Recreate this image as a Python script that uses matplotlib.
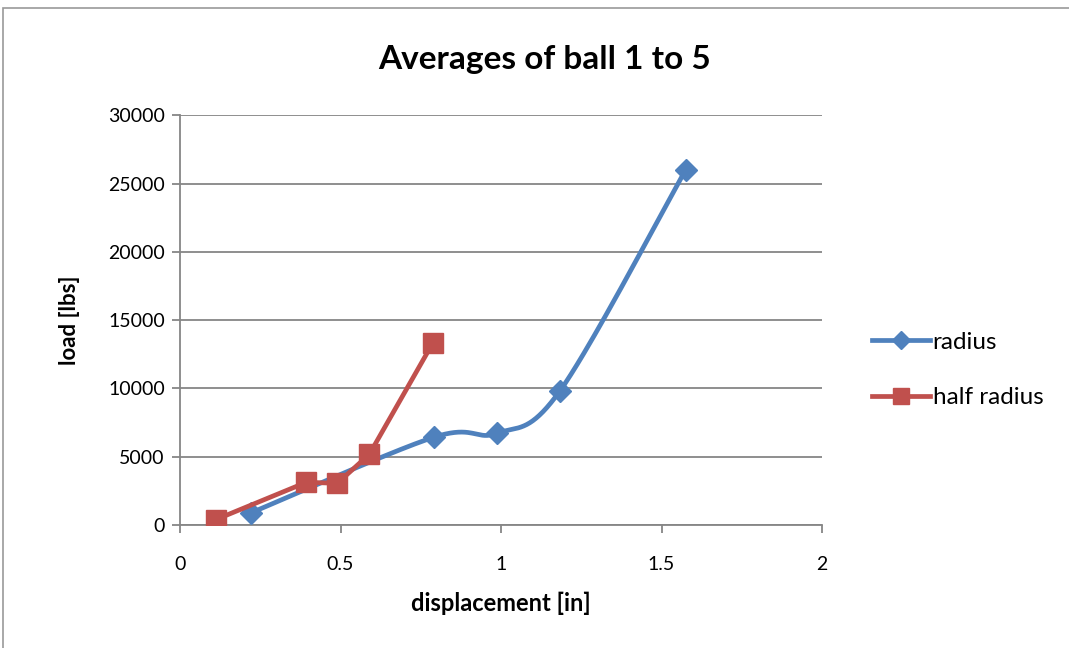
import numpy as np
import matplotlib
matplotlib.use("Agg")
import matplotlib.pyplot as plt
from matplotlib.patches import Rectangle
from matplotlib.lines import Line2D

# Data
radius_x = [0.222, 0.79, 0.987, 1.184, 1.575]
radius_y = [900, 6420, 6710, 9830, 26000]
half_x = [0.112, 0.394, 0.490, 0.590, 0.787]
half_y = [400, 3130, 3050, 5180, 13300]
xticks = [0, 0.5, 1, 1.5, 2]
xticklabels = ['0', '0.5', '1', '1.5', '2']
yticks = [0, 5000, 10000, 15000, 20000, 25000, 30000]

plt.rcParams['font.family'] = ['Lato', 'DejaVu Sans']

W, H = 1069, 648
fig = plt.figure(figsize=(W / 100, H / 100), dpi=100)
ax = fig.add_axes([180 / W, (H - 525) / H, (822 - 180) / W, (525 - 115.2) / H])

blue = '#4F81BD'
red = '#C0504D'
grid = '#868686'


def smooth(xs, ys, sx, sy, n=40):
    # Excel-style smoothed line: Catmull-Rom Bezier in display-proportional space
    P = np.column_stack([np.array(xs) * sx, np.array(ys) * sy])
    out = [P[0]]
    for i in range(len(P) - 1):
        p0 = P[i - 1] if i > 0 else P[i]
        p1, p2 = P[i], P[i + 1]
        p3 = P[i + 2] if i + 2 < len(P) else P[i + 1]
        c1 = p1 + (p2 - p0) / 6
        c2 = p2 - (p3 - p1) / 6
        t = np.linspace(0, 1, n)[1:, None]
        seg = ((1 - t) ** 3) * p1 + 3 * ((1 - t) ** 2) * t * c1 + 3 * (1 - t) * t ** 2 * c2 + t ** 3 * p2
        out.extend(seg)
    out = np.array(out)
    return out[:, 0] / sx, out[:, 1] / sy


sx = 642 / 2.0
sy = 410 / 30000.0
bx, by = smooth(radius_x, radius_y, sx, sy)
ax.plot(bx, by, color=blue, lw=3.4, solid_capstyle='round', zorder=3)
ax.plot(radius_x, radius_y, ls='none', marker='D', ms=11, color=blue, zorder=4)
ax.plot(half_x, half_y, color=red, lw=3.4, marker='s', ms=15, zorder=5)

ax.set_xlim(0, 2)
ax.set_ylim(0, 30000)
ax.set_xticks(xticks)
ax.set_xticklabels(xticklabels)
ax.set_yticks(yticks)
ax.set_yticklabels([str(v) for v in yticks])
ax.grid(axis='y', color=grid, lw=1.3)
ax.set_axisbelow(True)
for s in ['top', 'right']:
    ax.spines[s].set_visible(False)
for s in ['left', 'bottom']:
    ax.spines[s].set_color(grid)
    ax.spines[s].set_linewidth(1.3)
ax.tick_params(axis='both', colors=grid, length=6, width=1.3, labelsize=14, labelcolor='black')
ax.tick_params(axis='x', pad=16)
ax.tick_params(axis='y', pad=5)

ax.set_xlabel('displacement [in]', fontsize=17, fontweight='bold', labelpad=14)
ax.set_ylabel('load [lbs]', fontsize=16, fontweight='bold', labelpad=20)
fig.text(545 / W, 1 - 60 / H, 'Averages of ball 1 to 5', fontsize=24, fontweight='bold',
         ha='center', va='center')

handles = [Line2D([], [], color=blue, lw=3.4, marker='D', ms=9),
           Line2D([], [], color=red, lw=3.4, marker='s', ms=12)]
leg = fig.legend(handles, ['radius', 'half radius'], loc='center left',
                 bbox_to_anchor=(850 / W, 1 - 370 / H), frameon=False, fontsize=17.5,
                 handlelength=2.4, handletextpad=0.1, labelspacing=1.4)

fig.patches.append(Rectangle((3 / W, -0.1), 1.2, 1 - 8 / H + 0.1, transform=fig.transFigure,
                             fill=False, edgecolor='#999999', lw=1.2))

fig.savefig('out.png', dpi=100)
